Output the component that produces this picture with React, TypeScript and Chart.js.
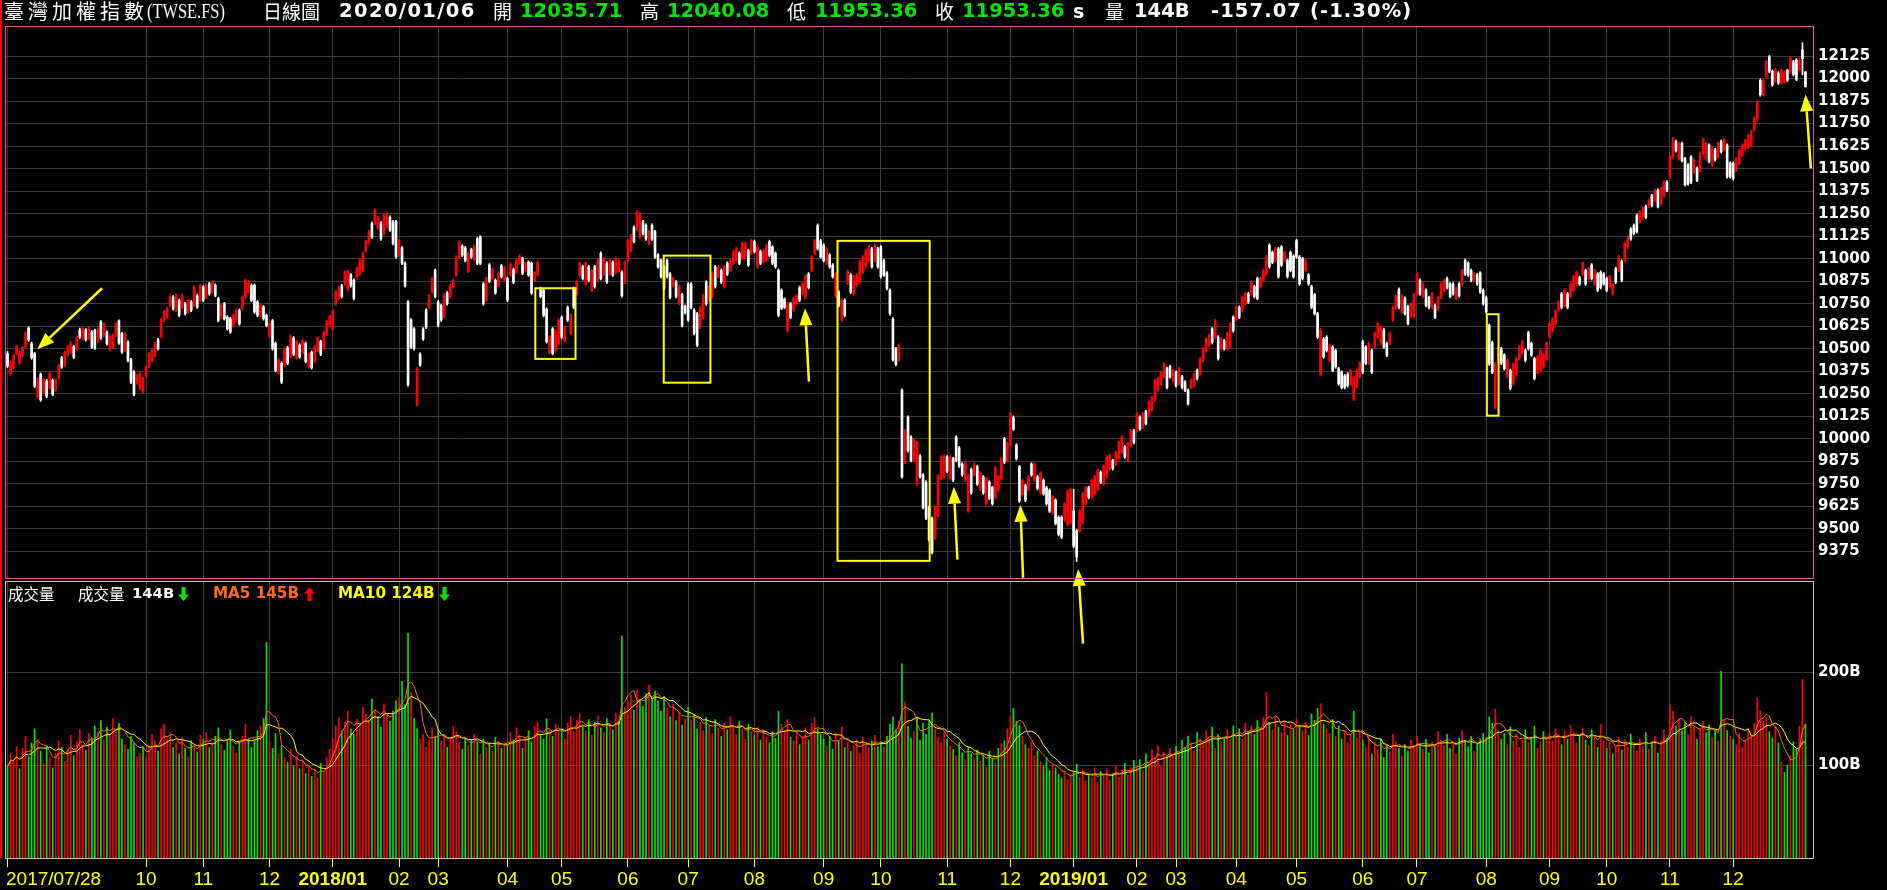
import React, { useEffect, useRef } from "react";
import { Chart, registerables } from "chart.js";

Chart.register(...registerables);

// ---------------- data ----------------
// first trading day index of each labelled month, and its label
const xTickIndex = [0, 46, 65, 87, 108, 130, 143, 166, 184, 206, 226, 248, 271, 290, 312, 333, 354, 375, 388, 408, 428, 450, 468, 491, 512, 531, 552, 573];
const xTickLabels = ["2017/07/28", "10", "11", "12", "2018/01", "02", "03", "04", "05", "06", "07", "08", "09", "10", "11", "12", "2019/01", "02", "03", "04", "05", "06", "07", "08", "09", "10", "11", "12"];
const priceTicks = [9375, 9500, 9625, 9750, 9875, 10000, 10125, 10250, 10375, 10500, 10625, 10750, 10875, 11000, 11125, 11250, 11375, 11500, 11625, 11750, 11875, 12000, 12125];
const volumeTicks = [100, 200];
const volumeTickLabels = ["100B", "200B"];

const opens = [
  // 2017/07/28 - 2017/09
  10473,10361,10398,10473,10421,10463,10513,10615,10528,10473,10232,10358,10260,10321,10284,10325,10272,10339,10450,10408,
  10467,10482,10513,10500,10606,10556,10606,10556,10593,10602,10543,10649,10574,10593,10495,10510,10574,10654,10584,10491,
  10537,10439,10371,10310,10278,10265,
  // 2017/10
  10352,10402,10435,10463,10550,10569,10658,10676,10740,10787,10713,10769,10732,10750,10704,10760,10741,10796,10769,
  // 2017/11
  10843,10787,10861,10815,10852,10778,10676,10750,10676,10667,10630,10658,10713,10723,10787,10815,10852,10852,10760,10686,10732,10686,
  // 2017/12
  10570,10655,10530,10365,10420,10410,10505,10455,10560,10450,10520,10480,10530,10400,10480,10430,10490,10540,10500,10580,10630,
  // 2018/01
  10610,10750,10780,10850,10860,10830,10910,10880,10895,10915,10935,11045,11090,11195,11195,11170,11200,11140,11180,11230,11205,11205,
  // 2018/02
  11020,11060,10975,10760,10660,10610,10190,10470,10610,10715,10730,10815,10935,
  // 2018/03
  10760,10740,10680,10810,10790,10845,10910,11010,11070,11060,10930,11050,10995,11110,11120,10860,10770,10965,10890,10880,10850,10960,10880,
  // 2018/04
  10890,10910,10940,10925,10975,11000,10935,10980,10975,10880,10910,10835,10825,10720,10480,10610,10490,10530,
  // 2018/05
  10675,10545,10730,10585,10835,10805,10910,10955,10860,10955,10825,10955,10880,11030,10915,10975,10915,10980,10925,10930,10925,10870,
  // 2018/06
  10990,11045,11175,11165,11120,11205,11185,11085,11185,11150,11020,10990,10955,10990,10915,10850,10870,10750,10800,10735,
  // 2018/07
  10860,10860,10715,10695,10620,10675,10870,10770,10790,10955,10900,10935,10845,10975,10935,10975,10990,11030,11000,11010,11045,11030,
  // 2018/08
  11095,10955,11040,10985,10990,11095,11065,11030,10935,10825,10775,10600,10750,10715,10750,10840,10805,10785,10915,10935,11030,11185,11100,
  // 2018/09
  11075,10975,11020,10965,10795,10815,10660,10770,10865,10910,10805,10855,10870,10925,10955,10990,11055,10990,11055,
  // 2018/10
  11065,10990,10920,10825,10665,10500,10440,10270,9870,10120,10010,9880,9750,9905,9800,9760,9620,9560,9450,9575,9780,9790,
  // 2018/11
  9900,9780,9890,10010,9950,9860,9770,9600,9830,9800,9845,9720,9790,9640,9760,9730,9675,9715,9780,10000,9880,
  // 2018/12
  9970,10120,9965,9845,9690,9740,9720,9860,9770,9790,9700,9770,9730,9715,9590,9660,9565,9565,9550,9525,9535,
  // 2019/01
  9600,9490,9490,9535,9640,9730,9675,9695,9720,9815,9750,9790,9835,9880,9860,9890,9925,9955,9880,9965,10045,
  // 2019/02
  10045,10120,10065,10150,10130,10160,10215,10270,10305,10345,10390,10400,10325,
  // 2019/03
  10370,10305,10345,10315,10270,10285,10295,10380,10360,10435,10490,10520,10610,10565,10565,10500,10545,10500,10510,10675,
  // 2019/04
  10660,10730,10715,10750,10805,10805,10845,10890,10845,10880,10915,11075,11035,10990,11055,11065,10990,10990,11035,11015,
  // 2019/05
  11100,11010,11000,10935,10910,10845,10800,10695,10360,10555,10565,10435,10510,10490,10390,10370,10350,10360,10305,10220,10290,10345,
  // 2019/06
  10540,10510,10420,10490,10510,10565,10530,10605,10530,10530,10660,10725,10830,10705,10780,10735,10680,10680,
  // 2019/07
  10805,10880,10790,10825,10785,10730,10740,10720,10785,10825,10890,10860,10860,10780,10860,10860,10990,10975,10935,10880,10910,10920,10825,
  // 2019/08
  10785,10630,10535,10175,10420,10500,10465,10345,10380,10305,10360,10445,10475,10490,10590,10530,10445,10365,10380,10400,10440,
  // 2019/09
  10565,10600,10640,10715,10805,10740,10805,10790,10825,10860,10895,10915,10935,10890,10965,10860,10915,10925,10915,
  // 2019/10
  10890,10845,10805,10945,10935,10985,10990,11065,11165,11185,11240,11205,11225,11290,11290,11350,11325,11380,11305,11350,11425,
  // 2019/11
  11455,11565,11650,11555,11640,11555,11520,11565,11480,11500,11490,11585,11555,11630,11520,11605,11565,11650,11605,11630,11530,
  // 2019/12 - 2020/01/06
  11530,11490,11530,11575,11610,11620,11630,11715,11770,11990,11910,12010,12120,12040,11985,12030,11975,11981,12044,12036,12094,12103,12050,12160,12035.71,
];

const highs = [
  10485,10432,10471,10520,10488,10512,10596,10622,10537,10480,10341,10366,10336,10330,10372,10333,10335,10414,10458,10489,
  10520,10541,10520,10573,10615,10618,10612,10620,10601,10609,10615,10657,10646,10600,10577,10583,10647,10661,10592,10593,
  10545,10447,10379,10360,10373,10342,
  10406,10481,10499,10536,10558,10669,10712,10731,10798,10795,10804,10777,10804,10758,10777,10768,10851,10804,10860,
  10851,10860,10869,10878,10860,10786,10749,10758,10684,10675,10694,10721,10721,10795,10888,10879,10860,10860,10768,10749,10740,10694,
  10648,10663,10538,10448,10428,10508,10513,10578,10568,10548,10528,10553,10538,10478,10488,10518,10568,10548,10598,10658,10688,
  10718,10823,10848,10858,10933,10938,10918,10888,10953,10998,11038,11103,11158,11203,11278,11238,11208,11248,11258,11238,11213,11213,
  11108,11068,10983,10768,10668,10618,10398,10478,10618,10723,10803,10898,10943,
  10768,10748,10808,10818,10858,10888,11018,11098,11078,11068,11038,11058,11078,11118,11128,10868,10898,10973,10948,10888,10928,10968,10958,
  10898,10978,10948,10998,11023,11008,10983,10988,10983,10928,10988,10843,10833,10728,10573,10618,10608,10668,
  10683,10628,10738,10693,10843,10878,10983,10963,10983,10963,10943,10963,10998,11038,11008,10983,10998,10988,11008,10998,10933,10988,
  11108,11138,11183,11268,11258,11213,11193,11158,11193,11158,11028,10998,10963,10998,10923,10898,10878,10853,10808,10743,
  10868,10868,10723,10703,10738,10803,10878,10853,10928,10963,10963,10943,10963,10983,10998,11048,11063,11038,11093,11093,11053,11108,
  11103,11073,11048,11053,11083,11103,11073,11038,10943,10833,10783,10758,10758,10788,10803,10848,10868,10913,10923,11018,11108,11193,11108,
  11083,11063,11028,10973,10923,10823,10778,10778,10938,10918,10908,10918,10993,11018,11053,11073,11063,11083,11063,
  11073,10998,10928,10833,10673,10508,10528,10278,10053,10128,10018,9998,9988,9913,9808,9768,9628,9568,9628,9803,9908,9913,
  9908,9908,9898,10018,9958,9868,9878,9803,9838,9868,9853,9818,9798,9788,9768,9738,9848,9798,9898,10008,9983,
  10148,10128,9973,9853,9778,9748,9798,9868,9868,9798,9818,9778,9738,9723,9688,9668,9573,9573,9648,9718,9728,
  9720,9498,9608,9703,9738,9738,9778,9798,9833,9823,9858,9908,9918,9888,9933,9988,10018,9963,9983,10053,10053,
  10148,10128,10148,10158,10213,10238,10333,10343,10378,10423,10398,10408,10388,
  10378,10398,10353,10323,10278,10333,10368,10388,10453,10508,10563,10583,10618,10663,10573,10563,10553,10593,10648,10683,
  10738,10738,10793,10813,10813,10878,10853,10898,10898,10943,11018,11083,11043,11063,11063,11073,11043,10998,11043,11023,
  11108,11018,11008,10998,10918,10853,10808,10703,10613,10563,10573,10528,10518,10498,10398,10378,10358,10368,10388,10348,10388,10428,
  10548,10518,10538,10498,10593,10648,10628,10613,10538,10593,10738,10798,10838,10803,10788,10743,10758,10808,
  10923,10888,10868,10833,10793,10813,10748,10793,10868,10888,10898,10868,10868,10843,10868,10943,10998,10983,10943,10923,10918,10928,10833,
  10793,10638,10543,10423,10518,10508,10473,10443,10388,10423,10453,10518,10548,10498,10598,10538,10453,10463,10498,10473,10538,
  10648,10673,10718,10768,10813,10833,10813,10868,10908,10933,10903,10983,10943,10953,10973,10943,10923,10933,10923,
  10898,10908,10863,10953,11018,10993,11093,11128,11173,11193,11248,11268,11288,11298,11333,11358,11388,11388,11398,11433,11433,
  11573,11673,11658,11648,11648,11563,11528,11573,11553,11508,11593,11668,11648,11638,11623,11613,11648,11658,11668,11638,11538,
  11538,11563,11608,11638,11663,11693,11713,11788,11878,11998,11998,12103,12128,12048,12058,12038,12053,12044,12052,12124,12102,12111,12116,12199,12040.08,
];

const lows = [
  10396,10352,10390,10465,10413,10455,10505,10541,10442,10285,10225,10209,10252,10229,10276,10239,10264,10331,10391,10400,
  10459,10474,10446,10492,10557,10548,10542,10549,10502,10496,10535,10552,10566,10520,10487,10502,10566,10524,10474,10483,
  10427,10307,10239,10302,10270,10257,
  10344,10394,10427,10455,10492,10561,10650,10668,10732,10714,10705,10678,10724,10687,10696,10705,10733,10724,10761,
  10761,10779,10798,10807,10789,10650,10668,10659,10603,10585,10622,10650,10631,10715,10779,10807,10761,10696,10678,10678,10659,10622,
  10562,10492,10372,10357,10307,10402,10412,10447,10462,10442,10447,10472,10422,10392,10387,10422,10482,10462,10492,10572,10622,
  10602,10742,10772,10782,10852,10822,10842,10772,10887,10907,10927,11037,11082,11112,11187,11162,11102,11132,11172,11152,11077,11002,
  11012,10967,10842,10292,10502,10492,10182,10402,10547,10612,10722,10807,10782,
  10622,10652,10672,10742,10782,10837,10902,11002,11012,10982,10922,11002,10987,10967,10967,10742,10762,10867,10882,10802,10842,10892,10872,
  10762,10902,10862,10917,10967,10912,10927,10902,10802,10872,10902,10782,10677,10532,10472,10467,10482,10522,
  10557,10537,10652,10577,10722,10797,10902,10882,10852,10872,10817,10837,10872,10882,10907,10862,10907,10902,10917,10922,10787,10862,
  10982,11037,11087,11157,11112,11132,11102,11077,11102,11002,10947,10892,10827,10892,10777,10842,10782,10742,10622,10692,
  10652,10722,10577,10512,10612,10667,10742,10762,10782,10837,10892,10862,10837,10907,10927,10967,10982,10967,10992,11002,10957,11022,
  11032,10947,10967,10977,10982,11012,10967,10947,10677,10717,10722,10592,10667,10707,10742,10762,10797,10777,10832,10927,11022,11047,11002,
  10982,10967,10947,10892,10787,10732,10652,10677,10857,10807,10797,10847,10862,10917,10947,10982,10947,10982,10947,
  10892,10902,10827,10687,10432,10407,10432,9782,9862,9927,9872,9872,9742,9782,9612,9552,9432,9362,9442,9567,9772,9782,
  9812,9772,9762,9872,9842,9792,9762,9592,9692,9792,9742,9712,9692,9632,9662,9632,9667,9707,9772,9862,9872,
  9962,10047,9882,9647,9682,9652,9712,9792,9762,9717,9692,9687,9632,9592,9582,9522,9462,9447,9542,9517,9527,
  9397,9320,9482,9527,9632,9667,9667,9687,9712,9752,9742,9782,9827,9827,9852,9882,9917,9892,9872,9957,9972,
  10037,10047,10057,10077,10122,10152,10207,10262,10297,10337,10277,10337,10317,
  10287,10297,10277,10262,10187,10277,10287,10327,10352,10427,10482,10512,10527,10557,10437,10492,10492,10492,10502,10592,
  10652,10667,10707,10742,10752,10797,10782,10772,10837,10872,10907,10947,10972,10982,10892,10957,10982,10892,10927,10892,
  11002,10852,10882,10927,10852,10722,10687,10557,10352,10447,10482,10427,10372,10392,10297,10277,10277,10287,10297,10212,10282,10337,
  10362,10412,10412,10362,10502,10557,10522,10502,10457,10522,10652,10717,10722,10697,10687,10632,10672,10672,
  10797,10797,10782,10732,10722,10722,10667,10712,10777,10817,10832,10782,10797,10772,10787,10852,10907,10902,10872,10872,10852,10807,10742,
  10697,10407,10362,10167,10412,10412,10382,10337,10272,10297,10352,10437,10467,10427,10492,10457,10327,10357,10372,10392,10432,
  10557,10592,10632,10707,10722,10732,10722,10782,10817,10852,10852,10907,10852,10882,10882,10852,10817,10832,10852,
  10817,10837,10797,10862,10927,10872,10982,11057,11102,11132,11142,11197,11217,11222,11282,11287,11317,11282,11297,11342,11372,
  11447,11557,11592,11547,11537,11402,11407,11417,11472,11427,11482,11577,11547,11532,11512,11542,11557,11587,11597,11447,11447,
  11437,11482,11522,11567,11602,11612,11622,11707,11762,11902,11902,12002,12032,11957,11977,11967,11967,11973,11982,12028,12014,11988,12040,12020,11953.36,
];

const closes = [
  10404,10426,10463,10513,10476,10506,10587,10550,10450,10293,10334,10217,10328,10237,10365,10247,10328,10406,10398,10482,
  10513,10532,10454,10565,10565,10611,10550,10611,10510,10504,10606,10560,10639,10528,10569,10574,10639,10532,10482,10584,
  10435,10315,10247,10352,10365,10334,
  10398,10473,10491,10528,10500,10661,10704,10723,10790,10722,10796,10686,10796,10695,10769,10713,10843,10732,10852,
  10769,10852,10806,10870,10797,10658,10741,10667,10611,10593,10686,10713,10639,10787,10880,10871,10769,10704,10686,10741,10667,10630,
  10640,10500,10380,10440,10315,10500,10420,10570,10470,10540,10455,10545,10430,10470,10395,10510,10560,10470,10590,10650,10680,
  10710,10815,10840,10790,10925,10930,10850,10780,10945,10990,11030,11095,11150,11120,11270,11230,11110,11240,11250,11160,11085,11010,
  11100,10975,10850,10300,10510,10500,10390,10410,10555,10620,10795,10890,10790,
  10630,10660,10800,10750,10850,10880,11010,11090,11020,10990,11030,11010,11070,10975,10975,10750,10890,10875,10940,10810,10920,10900,10950,
  10770,10970,10870,10990,11015,10920,10975,10910,10810,10920,10980,10790,10685,10540,10565,10475,10600,10660,
  10565,10620,10660,10685,10730,10870,10975,10890,10975,10880,10935,10845,10990,10890,11000,10870,10990,10910,11000,10990,10795,10980,
  11100,11130,11095,11260,11250,11140,11110,11150,11110,11010,10955,10900,10835,10900,10785,10890,10790,10845,10630,10700,
  10660,10730,10585,10520,10730,10795,10750,10845,10920,10845,10955,10870,10955,10915,10990,11040,11055,10975,11085,11085,10965,11100,
  11040,11065,10975,11045,11075,11020,10975,10955,10685,10725,10730,10750,10675,10780,10795,10770,10860,10905,10840,11010,11100,11055,11010,
  10990,11055,10955,10900,10915,10740,10770,10685,10930,10815,10900,10910,10985,11010,11045,11065,10955,11075,10955,
  10900,10910,10835,10695,10440,10415,10520,9790,10045,9935,9880,9990,9980,9790,9620,9560,9440,9370,9620,9795,9900,9905,
  9820,9900,9770,9880,9850,9800,9870,9795,9700,9860,9750,9810,9700,9780,9670,9640,9840,9790,9890,9870,9975,
  10140,10055,9890,9655,9770,9660,9790,9800,9860,9725,9810,9695,9640,9600,9680,9530,9470,9455,9640,9710,9720,
  9405,9345,9600,9695,9730,9675,9770,9790,9825,9760,9850,9900,9910,9835,9925,9980,10010,9900,9975,10045,9980,
  10140,10055,10140,10085,10205,10230,10325,10335,10370,10415,10285,10345,10380,
  10295,10390,10285,10270,10195,10325,10360,10335,10445,10500,10555,10575,10535,10655,10445,10555,10500,10585,10640,10600,
  10730,10675,10785,10805,10760,10870,10790,10780,10890,10935,11010,10955,10980,11055,10900,10965,11035,10900,10935,10900,
  11010,10860,10890,10990,10860,10730,10695,10565,10605,10455,10490,10520,10380,10400,10305,10285,10285,10295,10380,10340,10380,10420,
  10370,10420,10530,10370,10585,10640,10620,10510,10465,10585,10730,10790,10730,10795,10695,10640,10750,10800,
  10915,10805,10860,10740,10730,10805,10675,10785,10860,10880,10840,10790,10805,10835,10795,10935,10915,10910,10880,10915,10860,10815,10750,
  10705,10415,10370,10415,10510,10420,10390,10435,10280,10415,10445,10510,10540,10435,10500,10465,10335,10455,10490,10465,10530,
  10640,10665,10710,10760,10730,10825,10730,10860,10900,10925,10860,10975,10860,10945,10890,10935,10825,10840,10860,
  10825,10900,10855,10870,11010,10880,11085,11120,11110,11140,11150,11260,11280,11230,11325,11295,11380,11290,11390,11425,11380,
  11565,11665,11600,11640,11545,11410,11415,11425,11545,11435,11585,11660,11640,11540,11615,11550,11640,11595,11660,11455,11455,
  11445,11555,11600,11630,11655,11685,11705,11780,11870,11910,11990,12095,12040,11965,12050,11975,12045,12036,11990,12116,12022,11996,12100,12110,11953.36,
];

// daily turnover, in billions (B)
const volumes = [
  98,112,105,120,96,118,131,109,124,139,128,115,102,121,108,97,113,126,119,104,
  117,132,110,125,138,121,116,134,129,142,136,148,127,141,133,150,139,145,128,122,
  117,131,124,109,113,120,
  108,121,133,126,115,139,144,128,135,119,124,112,130,118,109,126,121,114,132,
  128,135,119,124,131,140,122,116,127,138,120,113,125,131,144,128,119,126,137,142,150,232,
  125,118,134,112,121,108,103,117,99,110,96,104,91,99,88,95,86,102,93,108,117,
  128,142,151,137,146,158,139,133,149,144,162,155,148,171,160,152,141,166,154,147,158,169,
  172,190,165,242,178,150,139,128,133,119,127,140,131,
  138,126,131,119,128,142,136,124,117,130,121,127,133,125,112,128,119,123,115,130,126,118,124,
  121,135,127,140,132,118,129,137,125,142,146,133,128,150,138,131,144,136,
  139,128,145,152,136,148,155,141,137,149,132,146,153,140,135,150,144,138,156,147,239,162,
  168,175,159,181,170,163,177,186,172,180,169,158,174,161,152,166,148,157,143,150,
  162,148,155,139,146,137,151,142,134,149,140,131,145,138,152,141,133,147,139,128,144,136,
  132,141,127,138,130,124,136,129,158,144,137,149,130,126,135,122,131,140,127,145,151,139,133,
  128,120,131,117,135,126,141,119,124,115,121,127,113,130,122,118,126,132,120,
  125,119,131,144,152,138,147,209,168,142,129,136,151,127,145,133,148,156,139,130,124,135,
  128,121,117,110,124,113,106,119,112,108,116,104,111,98,115,107,102,118,123,126,139,
  152,161,147,143,131,122,118,125,110,115,104,99,108,94,101,97,90,86,93,84,89,
  92,101,87,95,83,90,86,97,81,93,88,96,84,91,99,87,94,102,89,97,105,
  98,106,94,112,103,117,108,121,99,114,109,118,111,
  120,113,127,119,131,124,116,135,128,122,137,129,141,118,133,125,130,138,127,142,
  131,139,128,145,136,142,133,148,139,151,178,146,138,152,141,135,147,132,144,139,
  150,143,137,146,132,155,148,161,166,144,139,134,149,131,142,128,137,124,133,158,129,136,
  127,119,131,112,124,116,128,108,121,114,133,125,118,110,122,115,127,119,
  131,122,117,128,113,125,119,136,127,121,133,118,124,112,129,137,126,120,131,115,123,128,134,
  129,152,145,160,137,128,134,122,141,126,133,119,127,138,124,130,142,118,125,136,129,
  134,126,139,131,122,137,128,143,135,124,132,140,127,121,138,130,119,144,126,
  118,125,112,121,130,116,127,119,133,122,115,128,120,135,117,124,131,113,126,138,129,
  165,158,142,150,137,146,133,152,141,128,139,147,135,143,130,138,126,201,149,137,131,
  128,122,134,119,127,140,131,145,172,158,147,151,136,129,142,124,103,92,100,110,125,117,142,192,144,
];

// annotations drawn on the price panel (trading-day index, index level)
const noteBoxes = [
  { fromIdx: 175.25, toIdx: 188.6, top: 10836, bottom: 10444 },
  { fromIdx: 217.9, toIdx: 233.4, top: 11017, bottom: 10312 },
  { fromIdx: 275.6, toIdx: 306.2, top: 11099, bottom: 9323 },
  { fromIdx: 491.2, toIdx: 495.1, top: 10692, bottom: 10129 },
];
const noteArrows = [
  { tailIdx: 31.4, tailVal: 10836, headIdx: 9.9, headVal: 10497 },
  { tailIdx: 266.1, tailVal: 10318, headIdx: 264.8, headVal: 10725 },
  { tailIdx: 315.4, tailVal: 9331, headIdx: 314.2, headVal: 9735 },
  { tailIdx: 337.2, tailVal: 9229, headIdx: 336.3, headVal: 9634 },
  { tailIdx: 357.1, tailVal: 8864, headIdx: 355.5, headVal: 9278 },
  { tailIdx: 598.8, tailVal: 11501, headIdx: 597.0, headVal: 11912 },
];

// ---------------- styling ----------------
const GRID = "#3b3b3b";
const PINK = "#e0559c";
const RED = "#ff0000";
const GREEN = "#00e600";
const YELLOW = "#ffff00";
const ORANGE = "#ff6a13";
const NUM_FONT = "'DejaVu Sans', Verdana, sans-serif";
const CJK_FONT = "'Noto Sans CJK TC', 'Noto Sans CJK SC', sans-serif";
const N_SLOTS = 600;

function movingAverage(vals: number[], n: number) {
  return vals.map((_, i) => {
    const s = Math.max(0, i - n + 1);
    const w = vals.slice(s, i + 1);
    return w.reduce((a, b) => a + b, 0) / w.length;
  });
}

function drawArrow(ctx: CanvasRenderingContext2D, x0: number, y0: number, x1: number, y1: number) {
  const ang = Math.atan2(y1 - y0, x1 - x0);
  const headLen = 17;
  const headW = 13;
  const bx = x1 - headLen * Math.cos(ang);
  const by = y1 - headLen * Math.sin(ang);
  ctx.strokeStyle = YELLOW;
  ctx.fillStyle = YELLOW;
  ctx.lineWidth = 2.5;
  ctx.beginPath();
  ctx.moveTo(x0, y0);
  ctx.lineTo(bx, by);
  ctx.stroke();
  ctx.beginPath();
  ctx.moveTo(x1, y1);
  ctx.lineTo(bx + (headW / 2) * Math.sin(ang), by - (headW / 2) * Math.cos(ang));
  ctx.lineTo(bx - (headW / 2) * Math.sin(ang), by + (headW / 2) * Math.cos(ang));
  ctx.closePath();
  ctx.fill();
}

const priceFramePlugin = {
  id: "priceFrame",
  afterDatasetsDraw(chart: any) {
    const { ctx, chartArea: a, scales } = chart;
    const x = scales.x, y = scales.y;
    ctx.save();
    ctx.strokeStyle = YELLOW;
    ctx.lineWidth = 2;
    noteBoxes.forEach((b) => {
      const l = x.getPixelForValue(b.fromIdx);
      const r = x.getPixelForValue(b.toIdx);
      const t = y.getPixelForValue(b.top);
      const btm = y.getPixelForValue(b.bottom);
      ctx.strokeRect(l, t, r - l, btm - t);
    });
    noteArrows.forEach((n) => {
      drawArrow(ctx, x.getPixelForValue(n.tailIdx), y.getPixelForValue(n.tailVal), x.getPixelForValue(n.headIdx), y.getPixelForValue(n.headVal));
    });
    ctx.strokeStyle = PINK;
    ctx.lineWidth = 1;
    ctx.strokeRect(a.left - 0.5, a.top - 0.5, a.right - a.left + 1, a.bottom - a.top + 1);
    ctx.restore();
  },
};

const isYearLabel = (s: string) => /^\d{4}\/\d{2}$/.test(s);

const volumeFramePlugin = {
  id: "volumeFrame",
  afterDraw(chart: any) {
    const { ctx, chartArea: a, scales } = chart;
    const x = scales.x;
    ctx.save();
    ctx.strokeStyle = "#c4c4c4";
    ctx.lineWidth = 1;
    ctx.strokeRect(a.left - 0.5, a.top - 0.5, a.right - a.left + 1, a.bottom - a.top + 1);
    ctx.fillStyle = YELLOW;
    ctx.textBaseline = "alphabetic";
    xTickIndex.forEach((idx, i) => {
      const label = xTickLabels[i];
      ctx.font = `${isYearLabel(label) ? "bold " : ""}19px 'Liberation Sans', Arial, sans-serif`;
      const px = x.getPixelForValue(idx);
      if (i === 0) {
        ctx.textAlign = "left";
        ctx.fillText(label, px - 1.5, a.bottom + 27);
      } else {
        ctx.textAlign = "center";
        ctx.fillText(label, px, a.bottom + 27);
      }
    });
    ctx.restore();
  },
};

type Piece = { x: number; y: number; text: string; color: string; family: string; size: number; bold?: boolean; ls?: number; sx?: number };

const headerPieces: Piece[] = [
  { x: 4, y: 0, text: "臺灣加權指數", color: "#fff", family: CJK_FONT, size: 20, ls: 4 },
  { x: 147, y: 0, text: "(TWSE.FS)", color: "#fff", family: "'Liberation Serif', 'DejaVu Serif', serif", size: 20, sx: 0.82 },
  { x: 263, y: 0, text: "日線圖", color: "#fff", family: CJK_FONT, size: 19 },
  { x: 339, y: 0, text: "2020/01/06", color: "#fff", family: NUM_FONT, size: 19.5, bold: true, ls: 1.4 },
  { x: 493, y: 0, text: "開", color: "#fff", family: CJK_FONT, size: 19 },
  { x: 520, y: 0, text: "12035.71", color: GREEN, family: NUM_FONT, size: 19.5, bold: true },
  { x: 640, y: 0, text: "高", color: "#fff", family: CJK_FONT, size: 19 },
  { x: 667, y: 0, text: "12040.08", color: GREEN, family: NUM_FONT, size: 19.5, bold: true },
  { x: 787, y: 0, text: "低", color: "#fff", family: CJK_FONT, size: 19 },
  { x: 815, y: 0, text: "11953.36", color: GREEN, family: NUM_FONT, size: 19.5, bold: true },
  { x: 935, y: 0, text: "收", color: "#fff", family: CJK_FONT, size: 19 },
  { x: 962, y: 0, text: "11953.36", color: GREEN, family: NUM_FONT, size: 19.5, bold: true },
  { x: 1073, y: 0, text: "s", color: "#fff", family: NUM_FONT, size: 19, bold: true },
  { x: 1105, y: 0, text: "量", color: "#fff", family: CJK_FONT, size: 19 },
  { x: 1134, y: 0, text: "144B", color: "#fff", family: NUM_FONT, size: 19.5, bold: true },
  { x: 1211, y: 0, text: "-157.07 (-1.30%)", color: "#fff", family: NUM_FONT, size: 19.5, bold: true, ls: 1.1 },
];

const legendPieces: Piece[] = [
  { x: 8, y: 582, text: "成交量", color: "#fff", family: CJK_FONT, size: 15.5 },
  { x: 78, y: 582, text: "成交量", color: "#fff", family: CJK_FONT, size: 15.5 },
  { x: 132, y: 582, text: "144B", color: "#fff", family: NUM_FONT, size: 14.8, bold: true },
  { x: 213, y: 582, text: "MA5 145B", color: ORANGE, family: NUM_FONT, size: 15.2, bold: true },
  { x: 338, y: 582, text: "MA10 124B", color: YELLOW, family: NUM_FONT, size: 15.2, bold: true },
];

function TextPiece({ p }: { p: Piece }) {
  return (
    <span
      style={{
        position: "absolute",
        left: p.x,
        top: p.y,
        lineHeight: "22px",
        height: 22,
        whiteSpace: "nowrap",
        color: p.color,
        fontFamily: p.family,
        fontSize: p.size,
        fontWeight: p.bold ? 700 : 400,
        letterSpacing: p.ls ? p.ls : 0,
        transform: p.sx ? `scaleX(${p.sx})` : undefined,
        transformOrigin: "left center",
      }}
    >
      {p.text}
    </span>
  );
}

function LegendArrow({ x, up, color }: { x: number; up: boolean; color: string }) {
  return (
    <svg style={{ position: "absolute", left: x, top: 587 }} width={11} height={14} viewBox="0 0 11 14">
      <polygon points={up ? "5.5,0 11,6.5 7.5,6.5 7.5,14 3.5,14 3.5,6.5 0,6.5" : "3.5,0 7.5,0 7.5,7.5 11,7.5 5.5,14 0,7.5 3.5,7.5"} fill={color} />
    </svg>
  );
}

export default function App() {
  const priceRef = useRef<HTMLCanvasElement>(null);
  const volRef = useRef<HTMLCanvasElement>(null);

  useEffect(() => {
    document.body.style.margin = "0";
    document.body.style.background = "#000";
    const labels = Array.from({ length: N_SLOTS }, (_, i) => String(i));
    const candleColors = closes.map((c, i) => (c >= opens[i] ? RED : "#ffffff"));
    const volColors = volumes.map((_, i) => {
      const prev = i === 0 ? opens[0] : closes[i - 1];
      return closes[i] >= prev ? RED : GREEN;
    });
    const ma5 = movingAverage(volumes, 5);
    const ma10 = movingAverage(volumes, 10);

    const xGridTicks = (s: any) => {
      s.ticks = xTickIndex.map((v) => ({ value: v }));
    };
    const noScalePadding = (s: any) => {
      s.paddingTop = 0;
      s.paddingBottom = 0;
      s.paddingLeft = 0;
      s.paddingRight = 0;
    };

    const priceChart = new Chart(priceRef.current as HTMLCanvasElement, {
      type: "bar",
      data: {
        labels,
        datasets: [
          {
            label: "wick",
            data: lows.map((l, i) => [l, highs[i]]) as any,
            backgroundColor: candleColors,
            barThickness: 1,
            grouped: false,
            order: 2,
          } as any,
          {
            label: "body",
            data: opens.map((o, i) => [Math.min(o, closes[i]), Math.max(o, closes[i])]) as any,
            backgroundColor: candleColors,
            barThickness: 2,
            minBarLength: 1,
            grouped: false,
            order: 1,
          } as any,
        ],
      },
      options: {
        animation: false,
        responsive: false,
        maintainAspectRatio: false,
        events: [],
        layout: { padding: { left: 6, top: 27, right: 0, bottom: 82 } },
        plugins: { legend: { display: false }, tooltip: { enabled: false } },
        scales: {
          x: {
            type: "category",
            offset: true,
            grid: { color: GRID, offset: false, drawTicks: false },
            border: { display: false },
            ticks: { display: false, autoSkip: false },
            afterBuildTicks: xGridTicks,
            afterFit: (s: any) => {
              s.height = 0;
              noScalePadding(s);
            },
          } as any,
          y: {
            position: "right",
            min: 9228,
            max: 12286,
            grid: { color: GRID, drawTicks: false },
            border: { display: false },
            ticks: {
              color: "#ffffff",
              padding: 5,
              font: { family: NUM_FONT, size: 15, weight: "bold" },
              callback: (v: any) => String(v),
            },
            afterBuildTicks: (s: any) => {
              s.ticks = priceTicks.map((v) => ({ value: v }));
            },
            afterFit: (s: any) => {
              s.width = 74;
              noScalePadding(s);
            },
          } as any,
        },
      },
      plugins: [priceFramePlugin],
    });

    const volChart = new Chart(volRef.current as HTMLCanvasElement, {
      type: "bar",
      data: {
        labels,
        datasets: [
          { type: "line", label: "MA5", data: ma5, borderColor: ORANGE, borderWidth: 1, pointRadius: 0, order: 0 } as any,
          { type: "line", label: "MA10", data: ma10, borderColor: YELLOW, borderWidth: 1, pointRadius: 0, order: 0 } as any,
          { type: "bar", label: "vol", data: volumes, backgroundColor: volColors, barThickness: 1, order: 1 } as any,
        ],
      },
      options: {
        animation: false,
        responsive: false,
        maintainAspectRatio: false,
        events: [],
        layout: { padding: { left: 6, top: 2, right: 0, bottom: 0 } },
        plugins: { legend: { display: false }, tooltip: { enabled: false } },
        scales: {
          x: {
            type: "category",
            offset: true,
            grid: { color: GRID, offset: false, drawTicks: true, tickLength: 9, tickColor: YELLOW },
            border: { display: false },
            ticks: { display: false, autoSkip: false },
            afterBuildTicks: xGridTicks,
            afterFit: (s: any) => {
              s.height = 32;
              noScalePadding(s);
            },
          } as any,
          y: {
            position: "right",
            min: 0,
            max: 297,
            grid: { color: GRID, drawTicks: false },
            border: { display: false },
            ticks: {
              color: "#ffffff",
              padding: 5,
              font: { family: NUM_FONT, size: 15, weight: "bold" },
              callback: (v: any) => {
                const k = volumeTicks.indexOf(Number(v));
                return k >= 0 ? volumeTickLabels[k] : "";
              },
            },
            afterBuildTicks: (s: any) => {
              s.ticks = volumeTicks.map((v) => ({ value: v }));
            },
            afterFit: (s: any) => {
              s.width = 74;
              noScalePadding(s);
            },
          } as any,
        },
      },
      plugins: [volumeFramePlugin],
    });

    return () => {
      priceChart.destroy();
      volChart.destroy();
    };
  }, []);

  return (
    <div style={{ position: "fixed", left: 0, top: 0, width: 1887, height: 890, background: "#000", overflow: "hidden" }}>
      <canvas ref={volRef} width={1887} height={310} style={{ position: "absolute", left: 0, top: 580, width: 1887, height: 310, zIndex: 1 }} />
      <canvas ref={priceRef} width={1887} height={660} style={{ position: "absolute", left: 0, top: 0, width: 1887, height: 660, zIndex: 2 }} />
      <div style={{ position: "absolute", left: 0, top: 0, width: 2, height: 858, background: RED, zIndex: 3 }} />
      <div style={{ position: "absolute", left: 0, top: 0, width: 1887, height: 890, zIndex: 4, pointerEvents: "none" }}>
        {headerPieces.map((p, i) => (
          <TextPiece key={"h" + i} p={p} />
        ))}
        {legendPieces.map((p, i) => (
          <TextPiece key={"l" + i} p={p} />
        ))}
        <LegendArrow x={178} up={false} color={GREEN} />
        <LegendArrow x={304} up={true} color={RED} />
        <LegendArrow x={439} up={false} color={GREEN} />
      </div>
    </div>
  );
}
